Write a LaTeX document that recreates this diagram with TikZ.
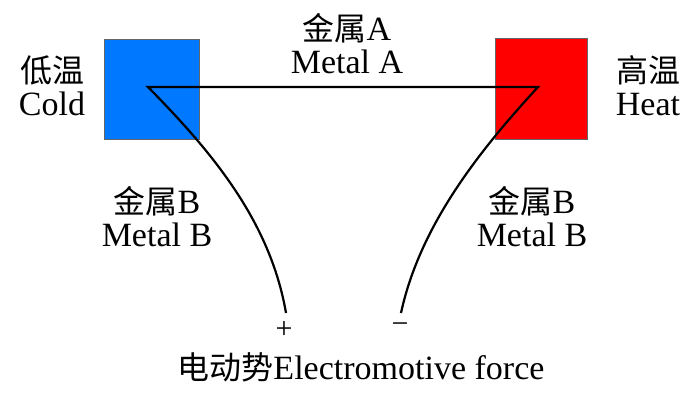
\documentclass[tikz,border=0pt]{standalone}
\usepackage{fontspec}
\setmainfont{Liberation Serif}
\newfontfamily\cjk[Scale=0.94]{Noto Sans CJK SC}
\definecolor{coldblue}{RGB}{0,120,255}
\definecolor{hotred}{RGB}{255,0,0}
\begin{document}
\begin{tikzpicture}[x=1pt,y=-1pt,
  lbl/.style={align=center,font=\fontsize{34}{33}\selectfont,inner sep=0pt},
  wire/.style={line width=2.2pt,black,line join=miter},
  block/.style={draw=black!60,line width=0.5pt,inner sep=0pt}]
\useasboundingbox (0,0) rectangle (700,404);
\node[block,fill=coldblue,minimum width=95pt,minimum height=100pt] (cold) at (151.5,89) {};
\node[block,fill=hotred,minimum width=92pt,minimum height=101pt] (hot) at (541,88.5) {};
\coordinate (cj) at (148,87);
\coordinate (hj) at (538,87);
\coordinate (pl) at (286,313);
\coordinate (mi) at (401,313);
\draw[wire] (pl) .. controls (270,220) and (210,150) .. (cj) -- (hj) .. controls (480,150) and (420,225) .. (mi);
\node[lbl] (ma) at (347,44) {{\cjk 金属}A\\Metal A};
\node[lbl] (lc) at (52,86) {{\cjk 低温}\\Cold};
\node[lbl] (lh) at (648,86) {{\cjk 高温}\\Heat};
\node[lbl] (mbl) at (157,217) {{\cjk 金属}B\\Metal B};
\node[lbl] (mbr) at (532,217) {{\cjk 金属}B\\Metal B};
\node[lbl,font=\fontsize{30}{30}\selectfont] (plus) at (284,330) {+};
\node[lbl,font=\fontsize{30}{30}\selectfont] (minus) at (400,328) {\textminus};
\node[lbl] (emf) at (361,367) {{\cjk 电动势}Electromotive force};
\end{tikzpicture}
\end{document}
